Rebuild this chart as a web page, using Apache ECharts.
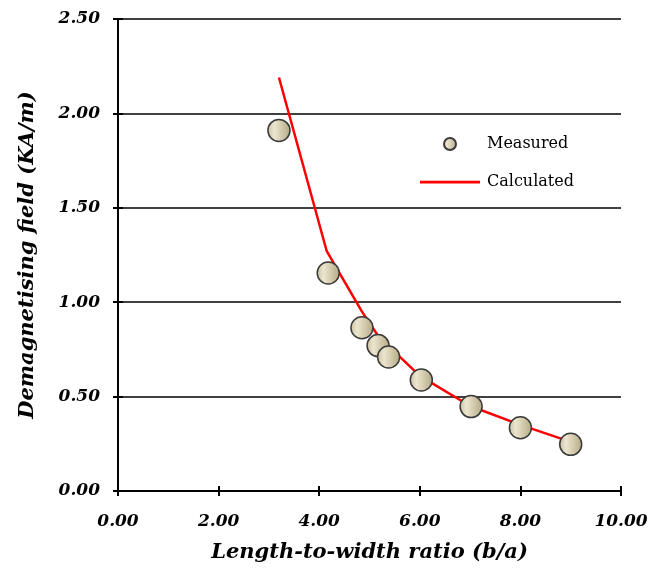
<!DOCTYPE html>
<html><head><meta charset="utf-8">
<script src="https://cdn.jsdelivr.net/npm/echarts@6/dist/echarts.min.js"></script>
<style>html,body{margin:0;padding:0;background:#fff}#c{width:667px;height:572px}</style>
</head><body><div id="c"></div>
<script>
const measuredX = [3.20, 4.18, 4.85, 5.17, 5.38, 6.03, 7.02, 8.00, 9.00];
const measuredY = [1.91, 1.155, 0.865, 0.77, 0.71, 0.588, 0.447, 0.335, 0.247];
const calcX = [3.20, 4.15, 4.85, 5.15, 5.35, 6.00, 7.00, 8.00, 9.00];
const calcY = [2.19, 1.27, 0.95, 0.83, 0.775, 0.61, 0.45, 0.35, 0.26];
const xTicks = ['0.00','2.00','4.00','6.00','8.00','10.00'];
const yTicks = ['0.00','0.50','1.00','1.50','2.00','2.50'];

const font = 'DejaVu Serif';
const chart = echarts.init(document.getElementById('c'));
const lblStyle = {fontFamily: font, fontWeight: 'bold', fontStyle: 'italic', fontSize: 17, color: '#000'};
const titleStyle = {fontFamily: font, fontWeight: 'bold', fontStyle: 'italic', fontSize: 21, color: '#000'};
const axLine = {show: true, onZero: false, lineStyle: {color: '#000', width: 2}};
const noLine = {show: false, onZero: false};
chart.setOption({
  animation: false,
  grid: {left: 118, right: 46, top: 19, bottom: 81, containLabel: false},
  legend: {
    orient: 'vertical', left: 415, top: 131, itemGap: 22, itemWidth: 60, itemHeight: 12,
    textStyle: {fontFamily: font, fontSize: 16, color: '#000', padding: [0, 0, 0, 2]},
    data: [
      {name: 'Measured', icon: 'circle'},
      {name: 'Calculated', icon: 'path://M0,0L0.05,0L0.05,0.05Z M0,4.8L60,4.8L60,7.4L0,7.4Z M0,12L0.05,12L0.05,11.95Z'}
    ]
  },
  xAxis: [{
    type: 'value', min: 0, max: 10, interval: 2,
    name: 'Length-to-width ratio (b/a)', nameLocation: 'middle', nameGap: 51,
    nameTextStyle: titleStyle,
    axisLine: axLine,
    axisTick: {show: false},
    axisLabel: Object.assign({margin: 22, formatter: (v) => xTicks[Math.round(v / 2)]}, lblStyle),
    splitLine: {show: false}
  }, {
    type: 'value', min: 0, max: 10, interval: 2, position: 'bottom', offset: -5,
    axisLine: noLine, axisLabel: {show: false}, splitLine: {show: false},
    axisTick: {show: true, length: 10, lineStyle: {color: '#000', width: 2}}
  }],
  yAxis: [{
    type: 'value', min: 0, max: 2.5, interval: 0.5,
    name: 'Demagnetising field (KA/m)', nameLocation: 'middle', nameGap: 80, nameRotate: 90,
    nameTextStyle: titleStyle,
    axisLine: axLine,
    axisTick: {show: false},
    axisLabel: Object.assign({margin: 18, formatter: (v) => yTicks[Math.round(v * 2)]}, lblStyle),
    splitLine: {show: true, lineStyle: {color: '#000', width: 1.5}}
  }, {
    type: 'value', min: 0, max: 2.5, interval: 0.5, position: 'left', offset: -5,
    axisLine: noLine, axisLabel: {show: false}, splitLine: {show: false},
    axisTick: {show: true, length: 10, lineStyle: {color: '#000', width: 2}}
  }],
  series: [{
    name: 'Calculated', type: 'line', xAxisIndex: 0, yAxisIndex: 0,
    data: calcX.map((x, i) => [x, calcY[i]]),
    showSymbol: false, symbol: 'none', smooth: false,
    lineStyle: {color: '#ff0000', width: 2.5},
    itemStyle: {color: '#ff0000'}, z: 2
  }, {
    name: 'Measured', type: 'scatter', xAxisIndex: 0, yAxisIndex: 0,
    data: measuredX.map((x, i) => [x, measuredY[i]]),
    symbol: 'circle', symbolSize: 22,
    itemStyle: {
      color: new echarts.graphic.LinearGradient(0, 0, 1, 0, [
        {offset: 0, color: '#c9c0a0'},
        {offset: 0.3, color: '#ece6cf'},
        {offset: 1, color: '#b3a882'}
      ]),
      borderColor: '#3a3a3a', borderWidth: 1.5, opacity: 1
    }, z: 3
  }, {
    name: 'axisHelper', type: 'scatter', xAxisIndex: 1, yAxisIndex: 1,
    data: [], silent: true
  }]
});
</script></body></html>
